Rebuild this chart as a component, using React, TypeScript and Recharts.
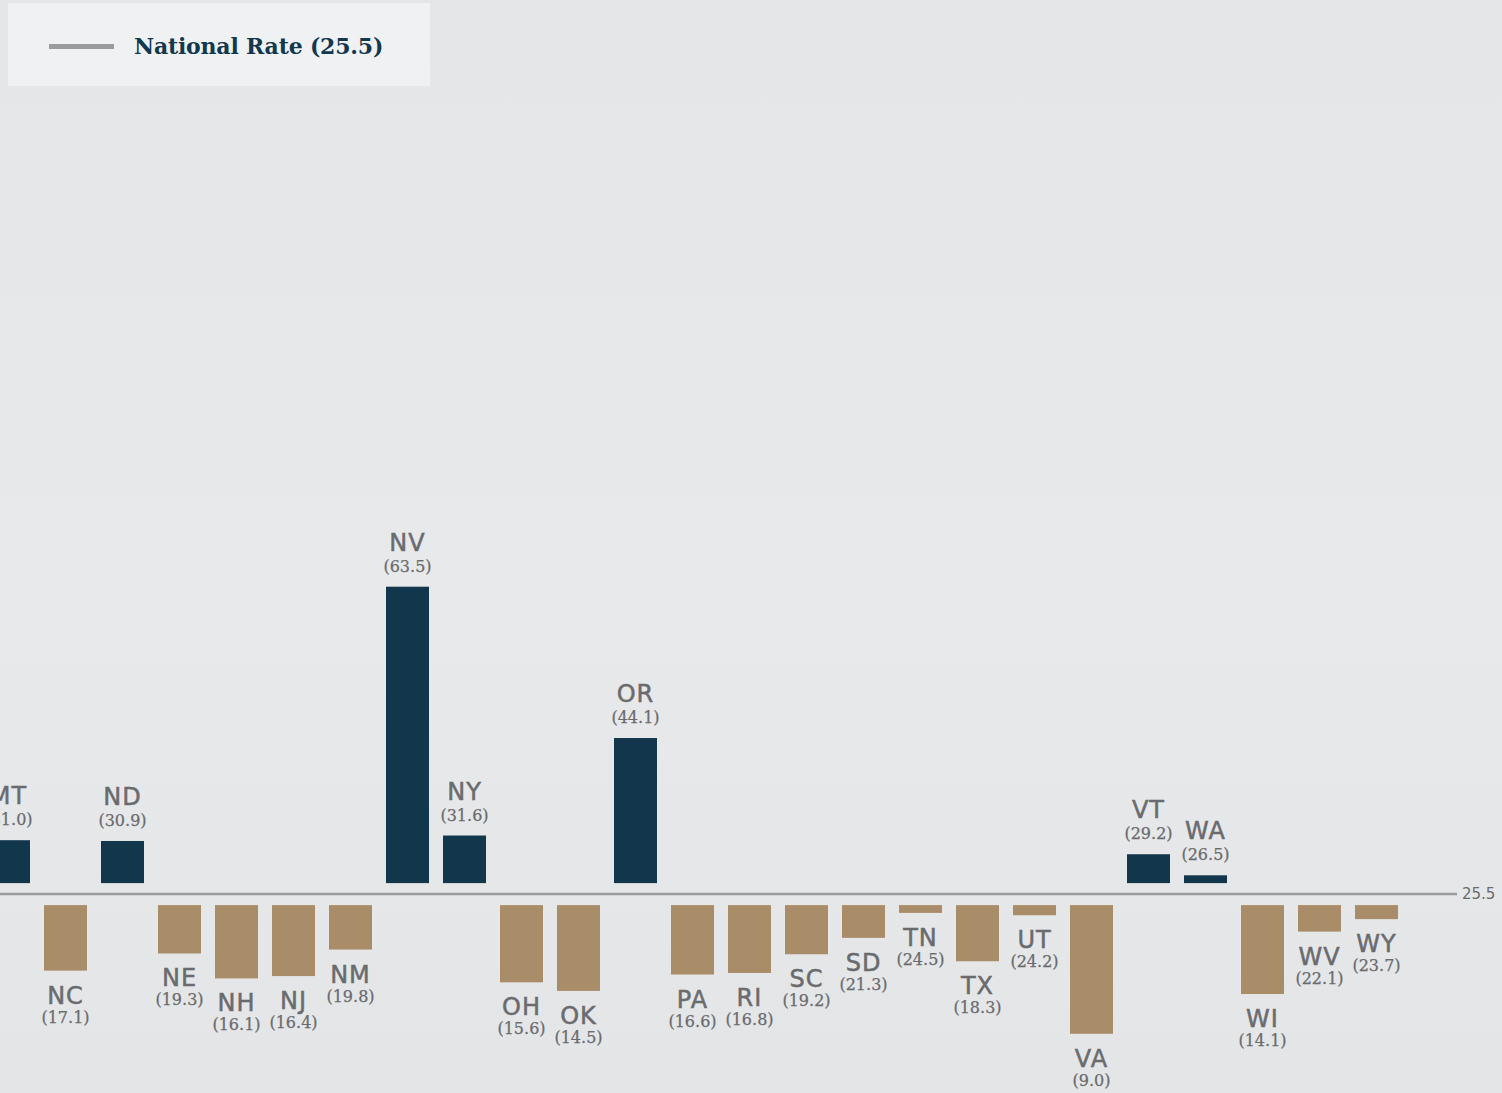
import React from 'react';
import { BarChart, Bar, XAxis, YAxis, ReferenceLine, Legend } from 'recharts';

// National rate the bars diverge from
const NATIONAL_RATE = 25.5;

const STATES = [
  'MT', 'NC', 'ND', 'NE', 'NH', 'NJ', 'NM', 'NV', 'NY', 'OH', 'OK', 'OR', 'PA',
  'RI', 'SC', 'SD', 'TN', 'TX', 'UT', 'VA', 'VT', 'WA', 'WI', 'WV', 'WY',
];

const RATES = [
  31.0, 17.1, 30.9, 19.3, 16.1, 16.4, 19.8, 63.5, 31.6, 15.6, 14.5, 44.1, 16.6,
  16.8, 19.2, 21.3, 24.5, 18.3, 24.2, 9.0, 29.2, 26.5, 14.1, 22.1, 23.7,
];

const Y_DOMAIN = [0, 100];

const NAVY = '#12364b';
const TAN = '#a88d68';
const LABEL_GREY = '#6a6b6e';
const LINE_GREY = '#9a9b9d';
const GAP = 11; // space between the national line and the bars

const data = STATES.map((state, i) => ({
  state,
  rate: RATES[i],
  range: [NATIONAL_RATE, RATES[i]],
}));

const abbrStyle = {
  fontFamily: '"DejaVu Sans", sans-serif',
  fontSize: 24,
  letterSpacing: 1,
  fill: LABEL_GREY,
  stroke: LABEL_GREY,
  strokeWidth: 0.5,
};

const valueStyle = {
  fontFamily: '"DejaVu Serif", serif',
  fontSize: 16,
  fill: LABEL_GREY,
  stroke: LABEL_GREY,
  strokeWidth: 0.25,
};

// Bar + its two labels; bars are pushed away from the national line a bit
const StateBar = (props: any) => {
  const { x, y, width, height, payload } = props;
  const above = payload.rate >= NATIONAL_RATE;
  const top = Math.min(y, y + height);
  const h = Math.abs(height);
  const ry = above ? top - GAP : top + GAP;
  const cx = x + width / 2;
  const rateText = `(${payload.rate.toFixed(1)})`;

  return (
    <g>
      <rect x={x} y={ry} width={width} height={h} fill={above ? NAVY : TAN} />
      {above ? (
        <>
          <text x={cx} y={ry - 36} textAnchor="middle" style={abbrStyle}>
            {payload.state}
          </text>
          <text x={cx} y={ry - 15} textAnchor="middle" style={valueStyle}>
            {rateText}
          </text>
        </>
      ) : (
        <>
          <text x={cx} y={ry + h + 33} textAnchor="middle" style={abbrStyle}>
            {payload.state}
          </text>
          <text x={cx} y={ry + h + 52} textAnchor="middle" style={valueStyle}>
            {rateText}
          </text>
        </>
      )}
    </g>
  );
};

const LegendBox = () => (
  <div
    style={{
      width: 422,
      height: 83,
      background: '#f0f1f3',
      display: 'flex',
      alignItems: 'center',
    }}
  >
    <div style={{ marginLeft: 41, marginTop: 3, width: 65, height: 5, background: LINE_GREY }} />
    <span
      style={{
        marginLeft: 20,
        marginTop: 2,
        fontFamily: '"DejaVu Serif", serif',
        fontWeight: 700,
        fontSize: 22,
        letterSpacing: -0.2,
        color: '#12384f',
        whiteSpace: 'nowrap',
      }}
    >
      National Rate ({NATIONAL_RATE})
    </span>
  </div>
);

export default function App() {
  return (
    <div
      style={{
        position: 'absolute',
        top: 0,
        left: 0,
        width: 1502,
        height: 1093,
        overflow: 'hidden',
        background: 'linear-gradient(180deg, #e5e6e8 0%, #e8e9ea 55%, #e4e5e7 100%)',
      }}
    >
      <div style={{ position: 'absolute', top: 0, left: -62 }}>
        <BarChart
          width={1569}
          height={1093}
          data={data}
          margin={{ top: 313, right: 50, bottom: 0, left: 42 }}
        >
          <XAxis dataKey="state" hide padding={{ left: 0, right: 52 }} />
          <YAxis hide domain={Y_DOMAIN} allowDataOverflow />
          <Legend
            layout="vertical"
            align="center"
            verticalAlign="middle"
            wrapperStyle={{ top: 3, left: 70, width: 422, height: 83 }}
            content={() => <LegendBox />}
          />
          <ReferenceLine
            y={NATIONAL_RATE}
            stroke={LINE_GREY}
            strokeWidth={2.5}
            label={{
              value: String(NATIONAL_RATE),
              position: 'right',
              fill: LABEL_GREY,
              fontSize: 15,
              fontFamily: '"DejaVu Sans", sans-serif',
            }}
          />
          <Bar
            dataKey="range"
            barSize={43}
            shape={<StateBar />}
            isAnimationActive={false}
          />
        </BarChart>
      </div>
    </div>
  );
}
